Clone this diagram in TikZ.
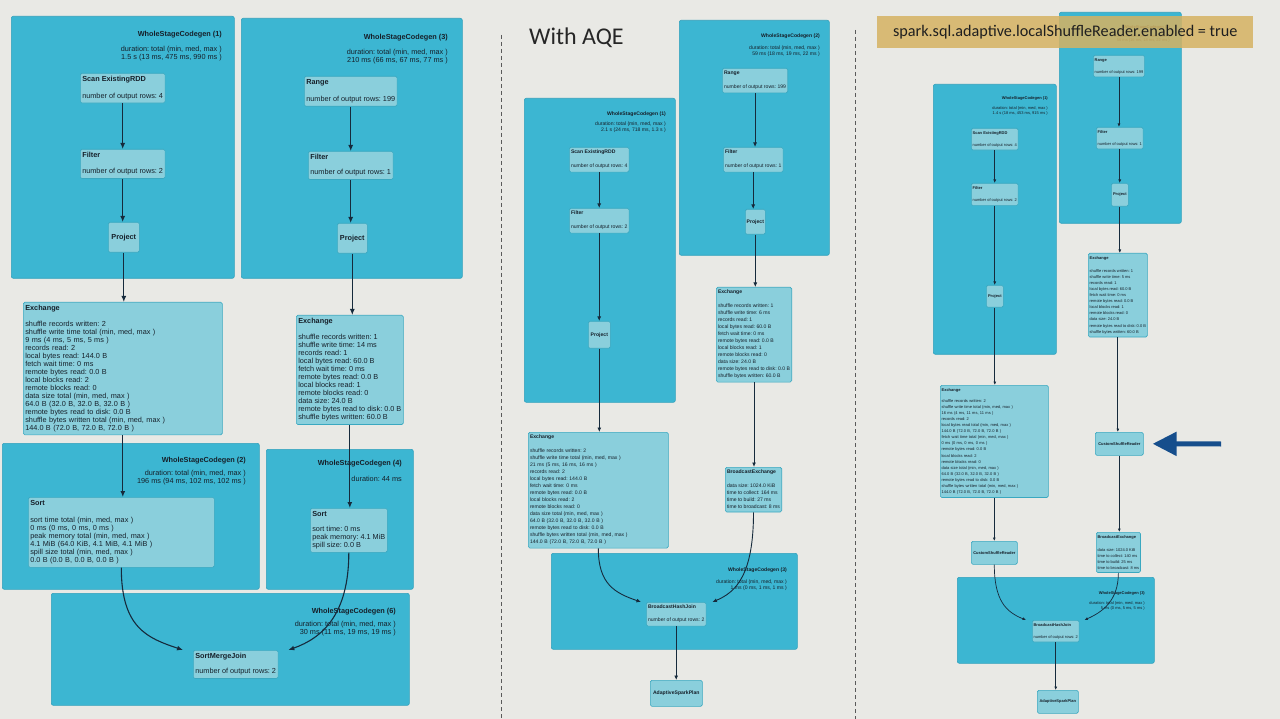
\documentclass[tikz,border=0pt]{standalone}
\usepackage{fontspec}
\setmainfont{Liberation Sans}
\newfontfamily\slidefont{Carlito}
\usetikzlibrary{arrows.meta}
\frenchspacing

\definecolor{bgcol}{RGB}{233,233,229}
\definecolor{clfill}{RGB}{60,182,210}
\definecolor{clline}{RGB}{48,160,188}
\definecolor{opfill}{RGB}{138,207,220}
\definecolor{opline}{RGB}{58,168,192}
\definecolor{txt}{RGB}{22,32,42}
\definecolor{edge}{RGB}{22,42,60}
\definecolor{banner}{RGB}{214,178,98}
\definecolor{pointer}{RGB}{22,78,140}
\definecolor{divider}{RGB}{90,90,90}

\newcommand\fontL{\fontsize{7.3}{8}\selectfont}
\newcommand\fontM{\fontsize{5.1}{7}\selectfont}
\newcommand\fontR{\fontsize{4}{6.1}\selectfont}
\newcommand\durL{\fontsize{7.3}{6}\selectfont}
\newcommand\durM{\fontsize{5.1}{6}\selectfont}
\newcommand\durR{\fontsize{4}{4.6}\selectfont}

\begin{document}
\frenchspacing
\begin{tikzpicture}[x=1pt,y=-1pt,
  cluster/.style={draw=clline,fill=clfill,rounded corners=2pt,anchor=north west,inner sep=0pt,line width=0.6pt},
  op/.style={draw=opline,fill=opfill,rounded corners=1.5pt,anchor=north west,align=left,text=txt,line width=0.6pt},
  opL/.style={op,font=\fontL,inner xsep=2pt,inner ysep=3.2pt},
  opM/.style={op,font=\fontM,inner xsep=1.7pt,inner ysep=3pt},
  opR/.style={op,font=\fontR,inner xsep=1.3pt,inner ysep=3pt},
  opc/.style={op,align=center,inner sep=0pt},
  cgtitle/.style={anchor=east,inner sep=0pt,text=txt},
  cgdur/.style={anchor=north east,align=right,inner sep=0pt,text=txt},
  flowL/.style={draw=edge,line width=1.1pt,-{Latex[length=6pt,width=5pt]}},
  flowM/.style={draw=edge,line width=0.9pt,-{Latex[length=4.5pt,width=4pt]}},
  flowR/.style={draw=edge,line width=0.7pt,-{Latex[length=3.5pt,width=3pt]}},
]
\fill[bgcol] (0,0) rectangle (1280,719);
\useasboundingbox (0,0) rectangle (1280,719);

% dividers
\draw[divider,line width=0.8pt,dash pattern=on 4pt off 3pt] (501,35) -- (501,719);
\draw[divider,line width=0.8pt,dash pattern=on 4pt off 3pt] (855,30) -- (855,719);

% ---- without AQE ----
\node[cluster,minimum width=223pt,minimum height=262pt] (cgL1) at (11,16) {};
\node[cgtitle,font=\fontL\bfseries] (cgL1t) at (222,35) {WholeStageCodegen (1)};
\node[cgdur,font=\durL] (cgL1d) at (222,46.2) {duration: total (min, med, max )\\1.5 s (13 ms, 475 ms, 990 ms )};
\node[cluster,minimum width=221pt,minimum height=260pt] (cgL3) at (241,18) {};
\node[cgtitle,font=\fontL\bfseries] (cgL3t) at (448,38) {WholeStageCodegen (3)};
\node[cgdur,font=\durL] (cgL3d) at (448,49.2) {duration: total (min, med, max )\\210 ms (66 ms, 67 ms, 77 ms )};
\node[cluster,minimum width=257pt,minimum height=146pt] (cgL2) at (2,443) {};
\node[cgtitle,font=\fontL\bfseries] (cgL2t) at (246,461) {WholeStageCodegen (2)};
\node[cgdur,font=\durL] (cgL2d) at (246,470.2) {duration: total (min, med, max )\\196 ms (94 ms, 102 ms, 102 ms )};
\node[cluster,minimum width=147pt,minimum height=140pt] (cgL4) at (266,449) {};
\node[cgtitle,font=\fontL\bfseries] (cgL4t) at (402,464) {WholeStageCodegen (4)};
\node[cgdur,font=\durL] (cgL4d) at (402,476.2) {duration: 44 ms};
\node[cluster,minimum width=358pt,minimum height=112pt] (cgL6) at (51,593) {};
\node[cgtitle,font=\fontL\bfseries] (cgL6t) at (396,612) {WholeStageCodegen (6)};
\node[cgdur,font=\durL] (cgL6d) at (396,621.2) {duration: total (min, med, max )\\30 ms (11 ms, 19 ms, 19 ms )};

\node[opL] (scanL) at (80,73) {\textbf{Scan ExistingRDD}\\[8.5pt]number of output rows: 4};
\node[opL] (filterL1) at (80,149) {\textbf{Filter}\\[8pt]number of output rows: 2};
\node[opc,font=\fontL,minimum width=31pt,minimum height=30pt] (projL1) at (108,222) {\textbf{Project}};
\node[opL] (rangeL) at (304,76) {\textbf{Range}\\[9pt]number of output rows: 199};
\node[opL] (filterL3) at (308,151) {\textbf{Filter}\\[7pt]number of output rows: 1};
\node[opc,font=\fontL,minimum width=30pt,minimum height=30pt] (projL3) at (337,223) {\textbf{Project}};
\node[opL,text width=195pt] (exchL1) at (23,302) {\textbf{Exchange}\\[7.3pt]
shuffle records written: 2\\
shuffle write time total (min, med, max )\\
9 ms (4 ms, 5 ms, 5 ms )\\
records read: 2\\
local bytes read: 144.0 B\\
fetch wait time: 0 ms\\
remote bytes read: 0.0 B\\
local blocks read: 2\\
remote blocks read: 0\\
data size total (min, med, max )\\
64.0 B (32.0 B, 32.0 B, 32.0 B )\\
remote bytes read to disk: 0.0 B\\
shuffle bytes written total (min, med, max )\\
144.0 B (72.0 B, 72.0 B, 72.0 B )};
\node[opL] (exchL3) at (296,315) {\textbf{Exchange}\\[8pt]
shuffle records written: 1\\
shuffle write time: 14 ms\\
records read: 1\\
local bytes read: 60.0 B\\
fetch wait time: 0 ms\\
remote bytes read: 0.0 B\\
local blocks read: 1\\
remote blocks read: 0\\
data size: 24.0 B\\
remote bytes read to disk: 0.0 B\\
shuffle bytes written: 60.0 B};
\node[opL,text width=182pt] (sortL2) at (28,497) {\textbf{Sort}\\[9pt]
sort time total (min, med, max )\\
0 ms (0 ms, 0 ms, 0 ms )\\
peak memory total (min, med, max )\\
4.1 MiB (64.0 KiB, 4.1 MiB, 4.1 MiB )\\
spill size total (min, med, max )\\
0.0 B (0.0 B, 0.0 B, 0.0 B )};
\node[opL] (sortL4) at (310,508) {\textbf{Sort}\\[7pt]
sort time: 0 ms\\
peak memory: 4.1 MiB\\
spill size: 0.0 B};
\node[opL] (smjL) at (193,650) {\textbf{SortMergeJoin}\\[7pt]number of output rows: 2};

\draw[flowL] (scanL.south) -- (scanL.south |- filterL1.north);
\draw[flowL] (filterL1.south) -- (filterL1.south |- projL1.north);
\draw[flowL] (projL1.south) -- (projL1.south |- exchL1.north);
\draw[flowL] (exchL1.south) -- (exchL1.south |- sortL2.north);
\draw[flowL] (rangeL.south) -- (rangeL.south |- filterL3.north);
\draw[flowL] (filterL3.south) -- (filterL3.south |- projL3.north);
\draw[flowL] (projL3.south) -- (projL3.south |- exchL3.north);
\draw[flowL] (exchL3.south) -- (exchL3.south |- sortL4.north);
\draw[flowL] (sortL2.south) .. controls +(0,60) and +(-36,-12) .. ([xshift=-10pt]smjL.north west);
\draw[flowL] (sortL4.south) .. controls +(0,62) and +(34,-12) .. ([xshift=10pt]smjL.north east);

% ---- with AQE ----
\node[anchor=base west,inner sep=0pt,text=black!85,font=\slidefont\fontsize{24}{24}\selectfont] (aqe) at (529,45) {With AQE};

\node[cluster,minimum width=150pt,minimum height=235pt] (cgM2) at (679,20) {};
\node[cgtitle,font=\fontM\bfseries] (cgM2t) at (820,36) {WholeStageCodegen (2)};
\node[cgdur,font=\durM] (cgM2d) at (820,46) {duration: total (min, med, max )\\59 ms (18 ms, 19 ms, 22 ms )};
\node[cluster,minimum width=151pt,minimum height=304pt] (cgM1) at (524,98) {};
\node[cgtitle,font=\fontM\bfseries] (cgM1t) at (666,114) {WholeStageCodegen (1)};
\node[cgdur,font=\durM] (cgM1d) at (666,122) {duration: total (min, med, max )\\2.1 s (24 ms, 718 ms, 1.3 s )};
\node[cluster,minimum width=246pt,minimum height=96pt] (cgM3) at (551,553) {};
\node[cgtitle,font=\fontM\bfseries] (cgM3t) at (787,570) {WholeStageCodegen (3)};
\node[cgdur,font=\durM] (cgM3d) at (787,580) {duration: total (min, med, max )\\1 ms (0 ms, 1 ms, 1 ms )};

\node[opM] (scanM) at (569,147) {\textbf{Scan ExistingRDD}\\[7pt]number of output rows: 4};
\node[opM] (filterM1) at (569,208) {\textbf{Filter}\\[7pt]number of output rows: 2};
\node[opc,font=\fontM,minimum width=22pt,minimum height=27pt] (projM1) at (588,321) {\textbf{Project}};
\node[opM] (rangeM) at (722,68) {\textbf{Range}\\[7pt]number of output rows: 199};
\node[opM] (filterM2) at (723,147) {\textbf{Filter}\\[7pt]number of output rows: 1};
\node[opc,font=\fontM,minimum width=20pt,minimum height=25pt] (projM2) at (745,209) {\textbf{Project}};
\node[opM] (exchM2) at (716,287) {\textbf{Exchange}\\[7pt]
shuffle records written: 1\\
shuffle write time: 6 ms\\
records read: 1\\
local bytes read: 60.0 B\\
fetch wait time: 0 ms\\
remote bytes read: 0.0 B\\
local blocks read: 1\\
remote blocks read: 0\\
data size: 24.0 B\\
remote bytes read to disk: 0.0 B\\
shuffle bytes written: 60.0 B};
\node[opM,text width=136.6pt] (exchM1) at (528,432) {\textbf{Exchange}\\[7pt]
shuffle records written: 2\\
shuffle write time total (min, med, max )\\
21 ms (5 ms, 16 ms, 16 ms )\\
records read: 2\\
local bytes read: 144.0 B\\
fetch wait time: 0 ms\\
remote bytes read: 0.0 B\\
local blocks read: 2\\
remote blocks read: 0\\
data size total (min, med, max )\\
64.0 B (32.0 B, 32.0 B, 32.0 B )\\
remote bytes read to disk: 0.0 B\\
shuffle bytes written total (min, med, max )\\
144.0 B (72.0 B, 72.0 B, 72.0 B )};
\node[opM] (bexM) at (725,467) {\textbf{BroadcastExchange}\\[7pt]
data size: 1024.0 KiB\\
time to collect: 164 ms\\
time to build: 27 ms\\
time to broadcast: 8 ms};
\node[opM] (bhjM) at (646,602) {\textbf{BroadcastHashJoin}\\[6pt]number of output rows: 2};
\node[opc,font=\fontM,minimum width=52pt,minimum height=26pt] (aspM) at (650,680) {\textbf{AdaptiveSparkPlan}};

\draw[flowM] (scanM.south) -- (scanM.south |- filterM1.north);
\draw[flowM] (filterM1.south) -- (filterM1.south |- projM1.north);
\draw[flowM] (projM1.south) -- (projM1.south |- exchM1.north);
\draw[flowM] (rangeM.south) -- (rangeM.south |- filterM2.north);
\draw[flowM] (filterM2.south) -- (filterM2.south |- projM2.north);
\draw[flowM] (projM2.south) -- (projM2.south |- exchM2.north);
\draw[flowM] (exchM2.south) -- (exchM2.south |- bexM.north);
\draw[flowM] (exchM1.south) .. controls +(0,36) and +(-26,-9) .. ([xshift=-5pt]bhjM.north west);
\draw[flowM] (bexM.south) .. controls +(0,62) and +(24,-10) .. ([xshift=6pt]bhjM.north east);
\draw[flowM] (bhjM.south) -- (bhjM.south |- aspM.north);

% ---- local shuffle reader ----
\node[cluster,minimum width=122pt,minimum height=211pt] (cgR2) at (1059,12) {};
\node[cgtitle,font=\fontR\bfseries] (cgR2t) at (1170,27) {WholeStageCodegen (2)};
\node[cgdur,font=\durR] (cgR2d) at (1170,34) {duration: total (min, med, max )\\56 ms (16 ms, 18 ms, 22 ms )};
\node[cluster,minimum width=123pt,minimum height=270pt] (cgR1) at (933,84) {};
\node[cgtitle,font=\fontR\bfseries] (cgR1t) at (1048,98) {WholeStageCodegen (1)};
\node[cgdur,font=\durR] (cgR1d) at (1048,106.4) {duration: total (min, med, max )\\1.4 s (18 ms, 453 ms, 915 ms )};
\node[cluster,minimum width=197pt,minimum height=86pt] (cgR3) at (957,577) {};
\node[cgtitle,font=\fontR\bfseries] (cgR3t) at (1145,593) {WholeStageCodegen (3)};
\node[cgdur,font=\durR] (cgR3d) at (1145,601.4) {duration: total (min, med, max )\\5 ms (0 ms, 5 ms, 5 ms )};

\node[opR] (scanR) at (971,128) {\textbf{Scan ExistingRDD}\\[5.9pt]number of output rows: 4};
\node[opR] (filterR1) at (971,183) {\textbf{Filter}\\[6.5pt]number of output rows: 2};
\node[opc,font=\fontR,minimum width=17pt,minimum height=22pt] (projR1) at (986,285) {\textbf{Project}};
\node[opR] (rangeR) at (1093,55) {\textbf{Range}\\[5.9pt]number of output rows: 199};
\node[opR] (filterR2) at (1096,127) {\textbf{Filter}\\[5.9pt]number of output rows: 1};
\node[opc,font=\fontR,minimum width=17pt,minimum height=23pt] (projR2) at (1111,183) {\textbf{Project}};
\node[opR] (exchR2) at (1088,253) {\textbf{Exchange}\\[6.9pt]
shuffle records written: 1\\
shuffle write time: 5 ms\\
records read: 1\\
local bytes read: 60.0 B\\
fetch wait time: 0 ms\\
remote bytes read: 0.0 B\\
local blocks read: 1\\
remote blocks read: 0\\
data size: 24.0 B\\
remote bytes read to disk: 0.0 B\\
shuffle bytes written: 60.0 B};
\node[opR,text width=105.4pt] (exchR1) at (940,385) {\textbf{Exchange}\\[4.9pt]
shuffle records written: 2\\
shuffle write time total (min, med, max )\\
16 ms (4 ms, 11 ms, 11 ms )\\
records read: 2\\
local bytes read total (min, med, max )\\
144.0 B (72.0 B, 72.0 B, 72.0 B )\\
fetch wait time total (min, med, max )\\
0 ms (0 ms, 0 ms, 0 ms )\\
remote bytes read: 0.0 B\\
local blocks read: 2\\
remote blocks read: 0\\
data size total (min, med, max )\\
64.0 B (32.0 B, 32.0 B, 32.0 B )\\
remote bytes read to disk: 0.0 B\\
shuffle bytes written total (min, med, max )\\
144.0 B (72.0 B, 72.0 B, 72.0 B )};
\node[opc,font=\fontR,minimum width=48pt,minimum height=23pt] (csrR2) at (1095,432) {\textbf{CustomShuffleReader}};
\node[opc,font=\fontR,minimum width=46pt,minimum height=23pt] (csrR1) at (971,541) {\textbf{CustomShuffleReader}};
\node[opR] (bexR) at (1096,532) {\textbf{BroadcastExchange}\\[6.9pt]
data size: 1024.0 KiB\\
time to collect: 140 ms\\
time to build: 25 ms\\
time to broadcast: 8 ms};
\node[opR] (bhjR) at (1032,620) {\textbf{BroadcastHashJoin}\\[5.9pt]number of output rows: 2};
\node[opc,font=\fontR,minimum width=41pt,minimum height=23pt] (aspR) at (1037,690) {\textbf{AdaptiveSparkPlan}};

\draw[flowR] (scanR.south) -- (scanR.south |- filterR1.north);
\draw[flowR] (filterR1.south) -- (filterR1.south |- projR1.north);
\draw[flowR] (projR1.south) -- (projR1.south |- exchR1.north);
\draw[flowR] (exchR1.south) -- (exchR1.south |- csrR1.north);
\draw[flowR] (rangeR.south) -- (rangeR.south |- filterR2.north);
\draw[flowR] (filterR2.south) -- (filterR2.south |- projR2.north);
\draw[flowR] (projR2.south) -- (projR2.south |- exchR2.north);
\draw[flowR] (exchR2.south) -- (exchR2.south |- csrR2.north);
\draw[flowR] (csrR2.south) -- (csrR2.south |- bexR.north);
\draw[flowR] (csrR1.south) .. controls +(0,36) and +(-20,-8) .. ([xshift=-6pt]bhjR.north west);
\draw[flowR] (bexR.south) .. controls +(0,28) and +(18,-8) .. ([xshift=5pt]bhjR.north east);
\draw[flowR] (bhjR.south) -- (bhjR.south |- aspR.north);

% setting banner and pointer
\node[fill=banner,fill opacity=.85,text opacity=1,anchor=north west,minimum width=376pt,minimum height=32pt,inner sep=0pt,text=black!88,font=\slidefont\fontsize{16.2}{17}\selectfont] (flag) at (877,16) {spark.sql.adaptive.localShuffleReader.enabled = true};
\coordinate (ptr) at (1221,444);
\draw[pointer,line width=5pt,-{Triangle[length=24pt,width=23pt]}] (ptr) -- ([xshift=9pt]csrR2.east);
\end{tikzpicture}
\end{document}
